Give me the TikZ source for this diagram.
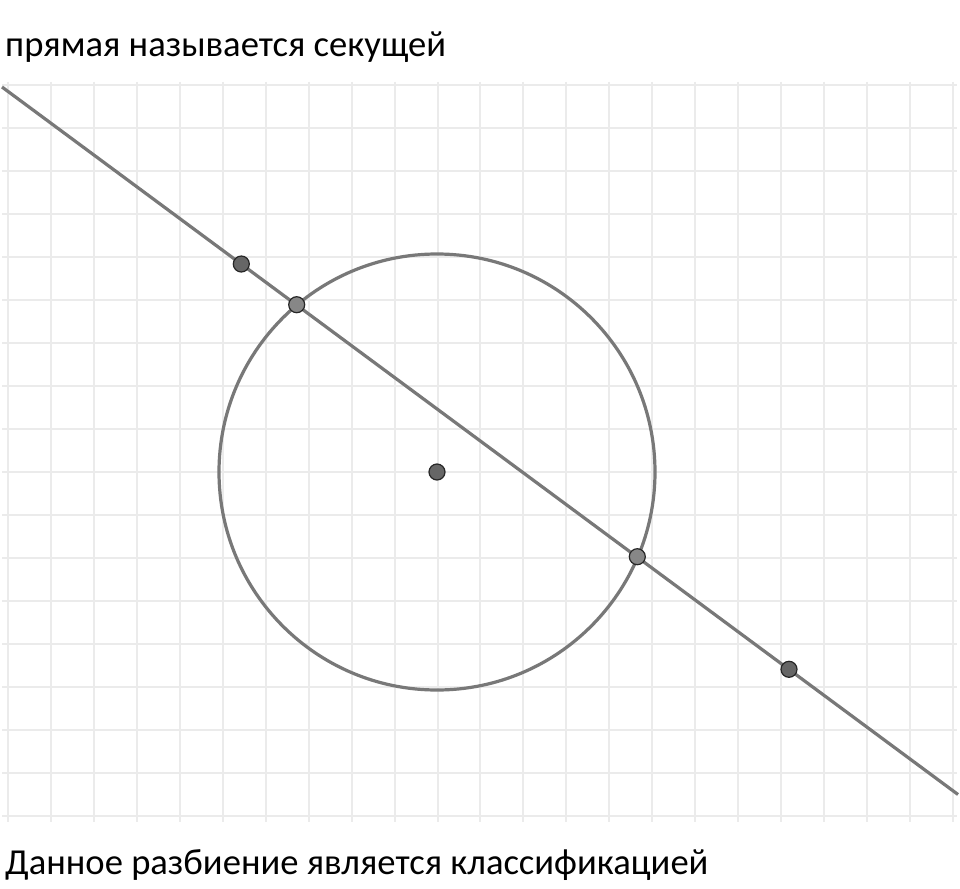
\documentclass[tikz,border=0pt]{standalone}
\usepackage{fontspec}
\setmainfont{Carlito}
\begin{document}
\begin{tikzpicture}[x=1pt,y=-1pt,
  gridline/.style={draw=black!8,line width=2pt},
  figline/.style={draw=black!53,line width=3.2pt},
  pt/.style={circle,draw=black!85,line width=1.2pt,inner sep=0pt,minimum size=16pt},
  ptdark/.style={pt,fill=black!60},
  ptlight/.style={pt,fill=black!47},
  lbl/.style={anchor=base west,inner sep=0pt,font=\fontsize{36.6}{42}\selectfont}]
\useasboundingbox[fill=white] (0,0) rectangle (960,888);
% grid
\foreach \i in {0,...,22} {
  \draw[gridline] ({8+42.95*\i},82) -- ({8+42.95*\i},822);
}
\foreach \j in {0,...,17} {
  \draw[gridline] (2,{85+43*\j}) -- (957,{85+43*\j});
}
% circle
\node[circle,figline,minimum size=436pt,inner sep=0pt] (C) at (437,472) {};
% line
\coordinate (L1) at (2,87);
\coordinate (L2) at (958,794.5);
\draw[figline] (L1) -- (L2);
% points
\node[ptdark] (A) at (241.3,264) {};
\node[ptlight] (B) at (296.7,304.7) {};
\node[ptdark] (O) at (437,472) {};
\node[ptlight] (D) at (637.3,556.7) {};
\node[ptdark] (E) at (789,669.3) {};
% texts
\node[lbl] (t1) at (5,57) {прямая называется секущей};
\node[lbl] (t2) at (5,874) {Данное разбиение является классификацией};
\end{tikzpicture}
\end{document}
